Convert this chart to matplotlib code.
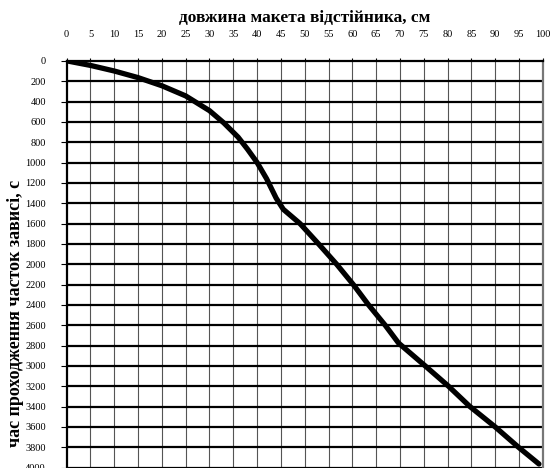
import matplotlib
matplotlib.use("Agg")

import matplotlib.pyplot as plt

# довжина макета (см) та час проходження (с)
length_cm = [0, 5, 10, 15, 20, 25, 30, 33, 36, 38, 40, 42, 44, 45.5,
             49, 52.9, 56.7, 60.2, 63.4, 66.9, 69.7, 75.3, 80.2, 84.7, 90, 94.9, 99.2]
time_s = [0, 45, 100, 165, 245, 345, 490, 610, 750, 870, 1000, 1160, 1350, 1460,
          1600, 1800, 2000, 2200, 2400, 2600, 2775, 3000, 3200, 3400, 3600, 3800, 3965]

x_ticks = list(range(0, 101, 5))
y_ticks = list(range(0, 4001, 200))

x_title = "довжина макета відстійника, см"
y_title = "час проходження часток зависі, с"

plt.rcParams["font.family"] = ["Liberation Serif", "DejaVu Serif"]

fig = plt.figure(figsize=(5.51, 4.68), dpi=100)
ax = fig.add_axes([0.121, 0.001, 0.864, 0.869])

ax.set_xlim(0, 100)
ax.set_ylim(4000, 0)

ax.set_xticks(x_ticks)
ax.set_yticks(y_ticks)
ax.xaxis.tick_top()
ax.tick_params(axis="x", length=2, width=0.8, pad=14, labelsize=7.5)
ax.tick_params(axis="y", length=4, width=0.8, pad=11, labelsize=7.5, direction="out")

for xv in x_ticks[1:-1]:
    ax.axvline(xv, color="#555555", lw=0.8, zorder=1)
for yv in y_ticks[1:]:
    ax.axhline(yv, color="black", lw=1.6, zorder=1)

ax.plot(length_cm, time_s, color="black", lw=3.8, solid_capstyle="round",
        solid_joinstyle="round", zorder=3)

ax.spines["left"].set_linewidth(1.6)
ax.spines["top"].set_linewidth(1.6)
ax.spines["right"].set_linewidth(1.6)
ax.spines["right"].set_color("#777777")
ax.spines["bottom"].set_visible(False)

fig.text(0.553, 0.962, x_title, ha="center", va="center", fontsize=12.5,
         fontweight="bold")
fig.text(0.029, 0.33, y_title, ha="center", va="center", rotation=90,
         fontsize=13, fontweight="bold")

fig.savefig("out.png", dpi=100)
